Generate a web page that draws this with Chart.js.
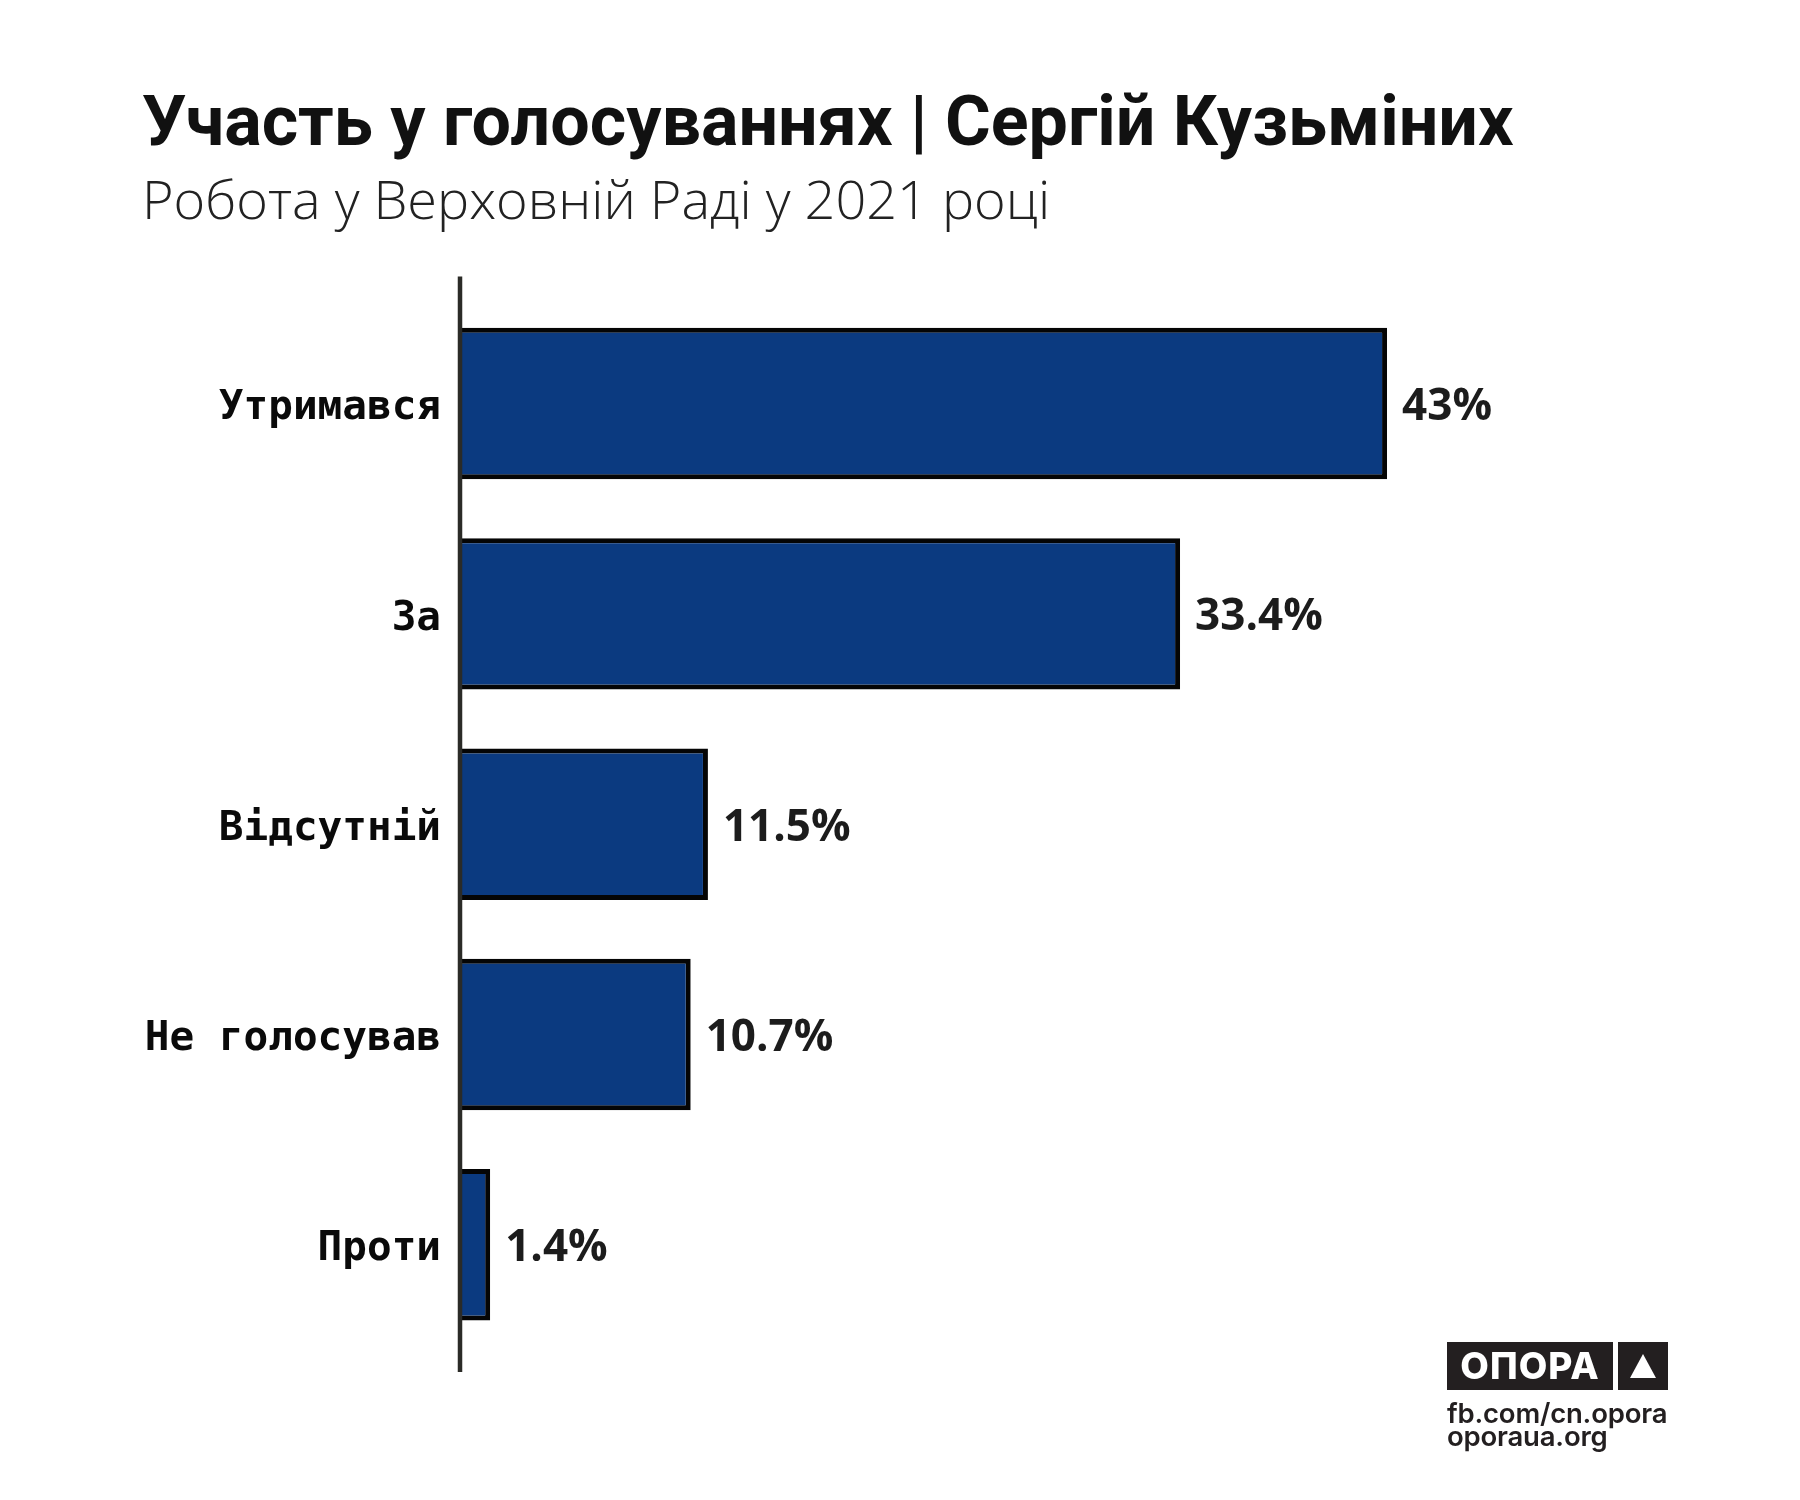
<!DOCTYPE html>
<html>
<head>
<meta charset="utf-8">
<script src="https://cdn.jsdelivr.net/npm/chart.js@4"></script>
<style>
  body { margin: 0; background: #fff; }
  #wrap { position: relative; width: 1800px; height: 1500px; }
  #logo { position: absolute; left: 1447px; top: 1342px; font-family: Inter, "Open Sans", sans-serif; }
  #logo .box { display: inline-block; vertical-align: top; background: #231f20; height: 48px; }
  #logo .name { width: 166px; color: #fff; font-weight: 800; font-size: 37px; line-height: 48px; text-align: center; letter-spacing: 1px; }
  #logo .tri { width: 50px; margin-left: 5px; position: relative; }
  #logo .tri:after { content: ""; position: absolute; left: 12px; top: 12px; border-left: 13px solid transparent; border-right: 13px solid transparent; border-bottom: 24px solid #fff; }
  #logo .links { margin-top: 12px; color: #231f20; font-size: 27.5px; font-weight: 600; line-height: 23px; letter-spacing: -0.2px; }
</style>
</head>
<body>
<div id="wrap">
  <canvas id="votesChart" width="1800" height="1500"></canvas>
  <div id="logo">
    <div class="box name">ОПОРА</div><div class="box tri"></div>
    <div class="links">fb.com/cn.opora<br>oporaua.org</div>
  </div>
</div>
<script>
(function() {
    "use strict";
    const categories = ['Утримався', 'За', 'Відсутній', 'Не голосував', 'Проти'];
    const shares = [43, 33.4, 11.5, 10.7, 1.4];
    const valueLabels = ['43%', '33.4%', '11.5%', '10.7%', '1.4%'];

    // vertical axis line, a little longer than the plot area
    const axisLine = {
        id: 'axisLine',
        afterDatasetsDraw(chart) {
            const { ctx, chartArea } = chart;
            ctx.save();
            ctx.strokeStyle = '#2b2b27';
            ctx.lineWidth = 4.5;
            ctx.beginPath();
            ctx.moveTo(chartArea.left, chartArea.top - 22);
            ctx.lineTo(chartArea.left, chartArea.bottom + 22);
            ctx.stroke();
            ctx.restore();
        }
    };

    // percent text at the end of each bar
    const barValues = {
        id: 'barValues',
        afterDatasetsDraw(chart) {
            const { ctx } = chart;
            const meta = chart.getDatasetMeta(0);
            ctx.save();
            ctx.fillStyle = '#1c1c1c';
            ctx.font = 'bold 44px "Open Sans", sans-serif';
            ctx.textAlign = 'left';
            ctx.textBaseline = 'middle';
            meta.data.forEach((bar, i) => {
                ctx.fillText(valueLabels[i], bar.x + 15, bar.y + 4);
            });
            ctx.restore();
        }
    };

    document.addEventListener("DOMContentLoaded", () => {
        const c1 = document.getElementById('votesChart');
        new Chart(c1, {
            type: 'bar',
            data: {
                labels: categories,
                datasets: [{
                    data: shares,
                    backgroundColor: '#0b3a80',
                    borderColor: '#050505',
                    borderWidth: 5,
                    categoryPercentage: 1,
                    barPercentage: 0.72
                }]
            },
            options: {
                responsive: false,
                animation: false,
                devicePixelRatio: 1,
                indexAxis: 'y',
                layout: { padding: { top: 85, left: 142, right: 262, bottom: 150 } },
                scales: {
                    x: { display: false, min: 0, max: 50 },
                    y: {
                        afterFit(scale) { scale.width = 318; },
                        grid: { display: false, drawTicks: false },
                        border: { display: false },
                        ticks: {
                            padding: 19,
                            labelOffset: 5,
                            color: '#0a0a0a',
                            font: { family: '"DejaVu Sans Mono", monospace', size: 41, weight: 'bold' }
                        }
                    }
                },
                plugins: {
                    legend: { display: false },
                    tooltip: { enabled: false },
                    title: {
                        display: true,
                        align: 'start',
                        text: 'Участь у голосуваннях | Сергій Кузьміних',
                        color: '#111',
                        font: { family: 'Roboto, sans-serif', size: 70, weight: 'bold', lineHeight: 1.2 },
                        padding: { top: 0, bottom: 0 }
                    },
                    subtitle: {
                        display: true,
                        align: 'start',
                        text: 'Робота у Верховній Раді у 2021 році',
                        color: '#222',
                        font: { family: '"Open Sans", sans-serif', size: 54, weight: '300', lineHeight: 1.1 },
                        padding: { top: 5, bottom: 65 }
                    }
                }
            },
            plugins: [axisLine, barValues]
        });
    });
})();
</script>
</body>
</html>
